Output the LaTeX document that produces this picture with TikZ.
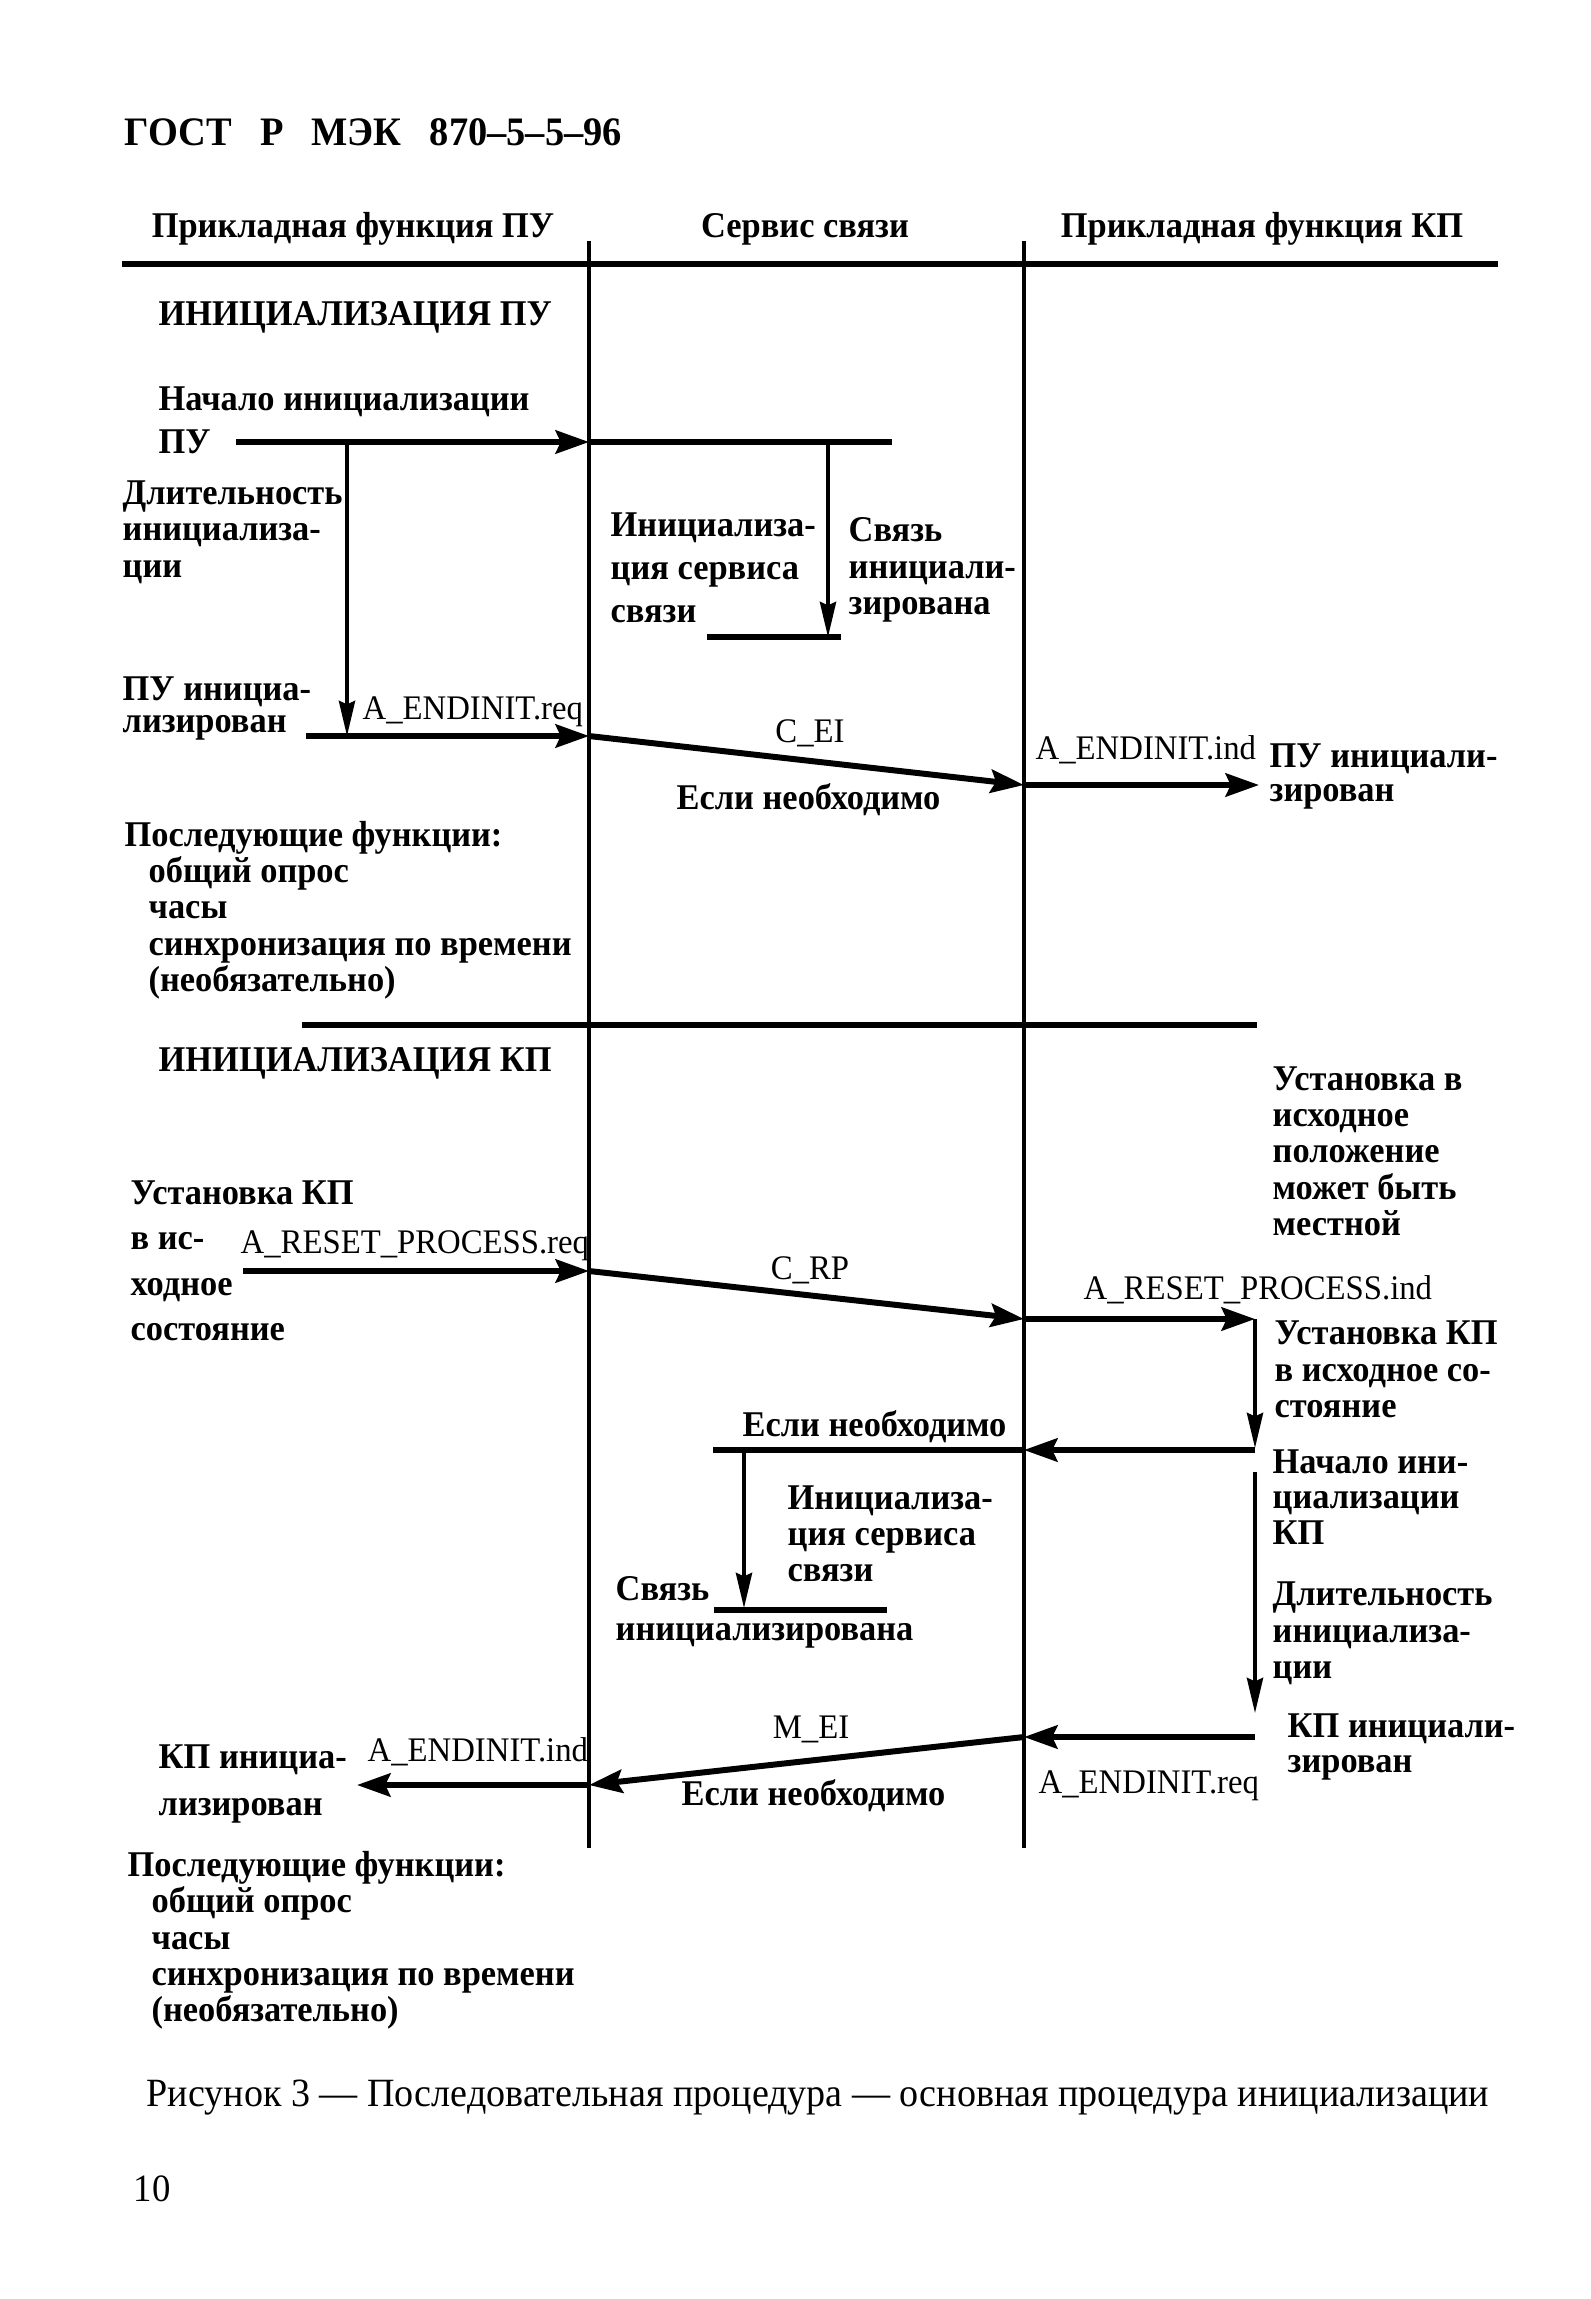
\documentclass[tikz,border=0pt]{standalone}
\usepackage{fontspec}
\setmainfont{Liberation Serif}[FakeStretch=0.95]
\usetikzlibrary{arrows.meta}

\begin{document}
\begin{tikzpicture}[
  x=0.01cm, y=-0.01cm,
  txt/.style={anchor=base west, inner sep=0pt, align=left, font=\bfseries\fontsize{10.3}{#1}\selectfont},
  txt/.default=10.24pt,
  sig/.style={anchor=base west, inner sep=0pt, font=\fontsize{9.8}{10}\selectfont},
  head/.style={anchor=base, inner sep=0pt, font=\bfseries\fontsize{10.3}{12}\selectfont},
  life/.style={line width=1.4pt},
  rule/.style={line width=1.8pt},
  msg/.style={line width=1.7pt, -{Stealth[length=9.5pt, width=6.6pt, inset=1.5pt]}},
  dur/.style={line width=1pt, -{Stealth[length=10pt, width=4.6pt, inset=1pt]}}
]
\useasboundingbox (0,0) rectangle (1590,2299);

\node[txt, font=\bfseries\fontsize{11.5}{12}\selectfont] (gost) at (124,145) {ГОСТ\hspace{8pt}Р\hspace{8pt}МЭК\hspace{8pt}870–5–5–96};
\node[head] (hpu) at (353,237) {Прикладная функция ПУ};
\node[head] (hsv) at (805,237) {Сервис связи};
\node[head] (hkp) at (1262,237) {Прикладная функция КП};

% lifelines and rules
\coordinate (l1t) at (589,241);
\coordinate (l1b) at (589,1848);
\coordinate (l2t) at (1024,241);
\coordinate (l2b) at (1024,1848);
\coordinate (r1a) at (122,264);
\coordinate (r1b) at (1498,264);
\coordinate (r2a) at (302,1025);
\coordinate (r2b) at (1257,1025);
\draw[life] (l1t) -- (l1b);
\draw[life] (l2t) -- (l2b);
\draw[rule] (r1a) -- (r1b);
\draw[rule] (r2a) -- (r2b);

% initialisation of the master station
\node[txt] (inipu) at (158,325) {ИНИЦИАЛИЗАЦИЯ ПУ};
\node[txt=11.95pt] (startpu) at (158,453) {Начало инициализации\\ПУ};
\node[txt] (durpu) at (122,577) {Длительность\\инициализа-\\ции};
\node[txt=12.2pt] (svinit) at (610,622) {Инициализа-\\ция сервиса\\связи};
\node[txt] (svdone) at (848,614) {Связь\\инициали-\\зирована};
\node[txt=9.1pt] (pudone) at (122,732) {ПУ инициа-\\лизирован};
\node[sig] (endreq) at (362,719) {A\_ENDINIT.req};
\node[sig, anchor=base] (cei) at (810,742) {C\_EI};
\node[txt] (need1) at (676,809) {Если необходимо};
\node[sig] (endind) at (1035,759) {A\_ENDINIT.ind};
\node[txt=9.4pt] (pudone2) at (1269,801) {ПУ инициали-\\зирован};
\node[txt] (next1) at (124,991) {Последующие функции:\\\hspace*{6.8pt}общий опрос\\\hspace*{6.8pt}часы\\\hspace*{6.8pt}синхронизация по времени\\\hspace*{6.8pt}(необязательно)};

\coordinate (a1) at (236,442);
\coordinate (p1) at (589,442);
\coordinate (a1e) at (892,442);
\coordinate (d1s) at (347,442);
\coordinate (d1e) at (347,736);
\coordinate (d2s) at (828,442);
\coordinate (d2e) at (828,637);
\coordinate (s1a) at (707,637);
\coordinate (s1b) at (841,637);
\coordinate (a2) at (306,736);
\coordinate (p2) at (589,736);
\coordinate (q1) at (1024,785);
\coordinate (a3) at (1259,785);
\draw[msg] (a1) -- (p1);
\draw[rule] (p1) -- (a1e);
\draw[dur] (d1s) -- (d1e);
\draw[dur] (d2s) -- (d2e);
\draw[rule] (s1a) -- (s1b);
\draw[msg] (a2) -- (p2);
\draw[msg] (p2) -- (q1);
\draw[msg] (q1) -- (a3);

% initialisation of the controlled station
\node[txt] (inikp) at (158,1071) {ИНИЦИАЛИЗАЦИЯ КП};
\node[txt] (local) at (1272,1235) {Установка в\\исходное\\положение\\может быть\\местной};
\node[txt=12.8pt] (resetkp) at (130,1340) {Установка КП\\в ис-\\ходное\\состояние};
\node[sig] (resreq) at (240,1253) {A\_RESET\_PROCESS.req};
\node[sig, anchor=base] (crp) at (810,1279) {C\_RP};
\node[sig] (resind) at (1083,1299) {A\_RESET\_PROCESS.ind};
\node[txt] (resetkp2) at (1274,1417) {Установка КП\\в исходное со-\\стояние};
\node[txt] (need2) at (742,1436) {Если необходимо};
\node[txt=10pt] (startkp) at (1272,1544) {Начало ини-\\циализации\\КП};
\node[txt] (svinit2) at (787,1581) {Инициализа-\\ция сервиса\\связи};
\node[txt=11.1pt] (svdone2) at (615,1640) {Связь\\инициализирована};
\node[txt] (durkp) at (1272,1678) {Длительность\\инициализа-\\ции};
\node[sig, anchor=base] (mei) at (811,1738) {M\_EI};
\node[txt=9.7pt] (kpdone) at (1287,1772) {КП инициали-\\зирован};
\node[sig] (endind2) at (367,1761) {A\_ENDINIT.ind};
\node[txt=13.1pt] (kpdone2) at (158,1815) {КП инициа-\\лизирован};
\node[txt] (need3) at (681,1805) {Если необходимо};
\node[sig] (endreq2) at (1038,1793) {A\_ENDINIT.req};
\node[txt] (next2) at (127,2021) {Последующие функции:\\\hspace*{6.8pt}общий опрос\\\hspace*{6.8pt}часы\\\hspace*{6.8pt}синхронизация по времени\\\hspace*{6.8pt}(необязательно)};

\coordinate (a4) at (243,1271);
\coordinate (p3) at (589,1271);
\coordinate (q2) at (1024,1319);
\coordinate (a5) at (1255,1319);
\coordinate (d3s) at (1255,1319);
\coordinate (d3e) at (1255,1448);
\coordinate (a6) at (1255,1450);
\coordinate (q3) at (1024,1450);
\coordinate (a6e) at (713,1450);
\coordinate (d4s) at (744,1450);
\coordinate (d4e) at (744,1608);
\coordinate (s2a) at (714,1610);
\coordinate (s2b) at (887,1610);
\coordinate (d5s) at (1255,1472);
\coordinate (d5e) at (1255,1713);
\coordinate (a7) at (1255,1737);
\coordinate (q4) at (1024,1737);
\coordinate (p4) at (589,1785);
\coordinate (a8) at (357,1785);
\draw[msg] (a4) -- (p3);
\draw[msg] (p3) -- (q2);
\draw[msg] (q2) -- (a5);
\draw[dur] (d3s) -- (d3e);
\draw[msg] (a6) -- (q3);
\draw[rule] (q3) -- (a6e);
\draw[dur] (d4s) -- (d4e);
\draw[rule] (s2a) -- (s2b);
\draw[dur] (d5s) -- (d5e);
\draw[msg] (a7) -- (q4);
\draw[msg] (q4) -- (p4);
\draw[msg] (p4) -- (a8);

\node[anchor=base west, inner sep=0pt, font=\fontsize{11.4}{12}\selectfont] (caption) at (146,2106) {Рисунок 3 — Последовательная процедура — основная процедура инициализации};
\node[anchor=base west, inner sep=0pt, font=\fontsize{11}{12}\selectfont] (page) at (133,2201) {10};
\end{tikzpicture}
\end{document}
